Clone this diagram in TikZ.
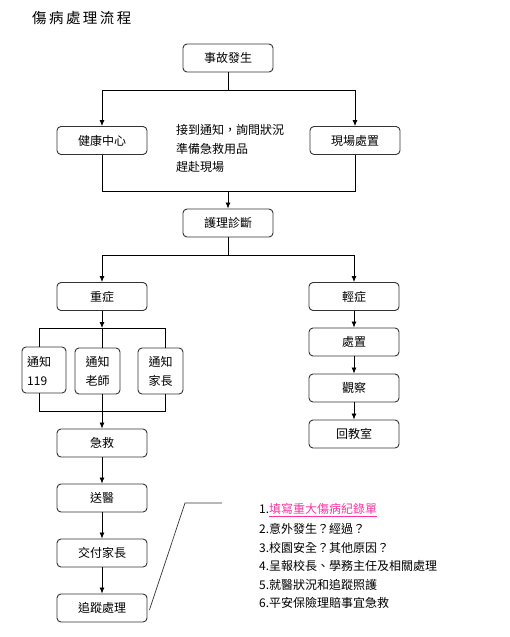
\documentclass[tikz,border=0pt]{standalone}
\usepackage{fontspec}
\setmainfont{Noto Sans CJK TC}
\usetikzlibrary{arrows.meta,calc}
\definecolor{boxline}{HTML}{333333}
\definecolor{linkpink}{HTML}{FF33A0}
\begin{document}
\begin{tikzpicture}[x=1pt,y=-1pt,
  box/.style={draw=boxline,line width=0.9pt,rounded corners=4pt,minimum width=90pt,minimum height=28pt,inner sep=0pt,font=\fontsize{12}{14}\selectfont},
  tallbox/.style={draw=boxline,line width=0.9pt,rounded corners=4pt,minimum width=45pt,minimum height=46pt,inner sep=0pt,font=\fontsize{12}{19}\selectfont},
  conn/.style={line width=0.8pt},
  arr/.style={line width=0.8pt,-{Latex[length=6pt,width=5pt]}},
  txt/.style={font=\fontsize{12}{18.5}\selectfont,inner sep=0pt,anchor=west}]
\useasboundingbox (0,0) rectangle (510,637);
\node[inner sep=0pt,anchor=west,font=\fontsize{14.5}{16}\selectfont] (title) at (32,18) {傷\,病\,處\,理\,流\,程};

\node[box] (accident) at (228,58) {事故發生};
\node[box] (health) at (102,140.5) {健康中心};
\node[box] (scene) at (355,140.5) {現場處置};
\node[inner sep=0pt,anchor=north west,align=left,font=\fontsize{12}{18.5}\selectfont] (notes) at (176,124.5) {接到通知，詢問狀況\\準備急救用品\\趕赴現場};
\node[box] (nursing) at (228,223) {護理診斷};
\node[box] (severe) at (102,296.5) {重症};
\node[box] (mild) at (354,296.5) {輕症};
\node[tallbox,minimum width=44pt] (n119) at (44,370) {};
\node[anchor=north west,inner sep=0pt,align=left,font=\fontsize{12}{19}\selectfont] (n119t) at (27,356) {通知\\119};
\node[tallbox,align=left] (nteacher) at (97.5,371) {通知\\老師};
\node[tallbox,align=left] (nparent) at (160.5,371) {通知\\家長};
\node[box] (treat) at (354,342) {處置};
\node[box] (observe) at (354,388) {觀察};
\node[box] (back) at (354,434) {回教室};
\node[box] (firstaid) at (102,443) {急救};
\node[box] (hospital) at (102,498) {送醫};
\node[box] (handover) at (102,553) {交付家長};
\node[box] (follow) at (102,608) {追蹤處理};

% junctions
\coordinate (j1m) at (228,90);
\coordinate (j1l) at (102,90);
\coordinate (j1r) at (355,90);
\coordinate (j2l) at (102,191);
\coordinate (j2r) at (355,191);
\coordinate (j2m) at (228,191);
\coordinate (j3m) at (228,255);
\coordinate (j3l) at (102,255);
\coordinate (j3r) at (354,255);
\coordinate (j4m) at (102,328);
\coordinate (j4l) at (39,328);
\coordinate (j4r) at (165,328);
\coordinate (j5m) at (102,411);
\coordinate (j5l) at (39,411);
\coordinate (j5r) at (165,411);
\coordinate (c1) at (185,503);
\coordinate (c2) at (222,503);

\draw[conn] (accident.south) -- (j1m);
\draw[conn] (j1l) -- (j1r);
\draw[arr] (j1l) -- (health.north);
\draw[arr] (j1r) -- (scene.north);
\draw[conn] (health.south) -- (j2l) -- (j2r) -- (scene.south);
\draw[arr] (j2m) -- (nursing.north);
\draw[conn] (nursing.south) -- (j3m);
\draw[conn] (j3l) -- (j3r);
\draw[arr] (j3l) -- (severe.north);
\draw[arr] (j3r) -- (mild.north);
\draw[arr] (severe.south) -- (j4m);
\draw[conn] (j4l) -- (j4r);
\draw[conn] (j4l) -- (j4l |- n119.north);
\draw[conn] (j4m) -- (j4m |- nteacher.north);
\draw[conn] (j4r) -- (j4r |- nparent.north);
\draw[conn] (j5l |- n119.south) -- (j5l) -- (j5r) -- (j5r |- nparent.south);
\draw[conn] (j5m |- nteacher.south) -- (j5m);
\draw[arr] (j5m) -- (firstaid.north);
\draw[arr] (firstaid) -- (hospital);
\draw[arr] (hospital) -- (handover);
\draw[arr] (handover) -- (follow);
\draw[arr] (mild) -- (treat);
\draw[arr] (treat) -- (observe);
\draw[arr] (observe) -- (back);
\draw[line width=0.7pt,draw=boxline] ($(follow.east)+(2,2)$) -- (c1) -- (c2);

\node[txt] (l1) at (259,510) {1.{\color{linkpink}\underline{填寫重大傷病紀錄單}}};
\node[txt] (l2) at (259,528.5) {2.意外發生？經過？};
\node[txt] (l3) at (259,547.5) {3.校園安全？其他原因？};
\node[txt] (l4) at (259,566) {4.呈報校長、學務主任及相關處理};
\node[txt] (l5) at (259,584.5) {5.就醫狀況和追蹤照護};
\node[txt] (l6) at (259,603) {6.平安保險理賠事宜急救};
\end{tikzpicture}
\end{document}
